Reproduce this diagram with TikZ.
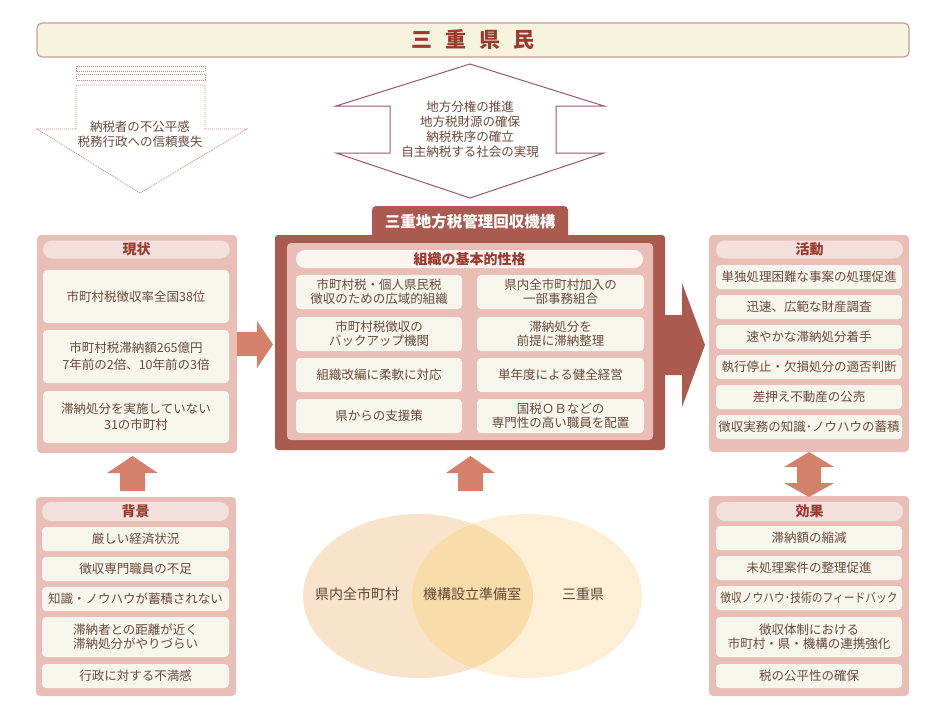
\documentclass[tikz,border=0pt]{standalone}
\usepackage{fontspec}
\setmainfont{Noto Sans CJK JP}
\definecolor{panelc}{HTML}{E8BEB6}
\definecolor{cellc}{HTML}{F6F6EC}
\definecolor{pillc}{HTML}{F3E0DD}
\definecolor{pillw}{HTML}{FBF4F1}
\definecolor{darkc}{HTML}{AB5A4F}
\definecolor{arrc}{HTML}{D4806B}
\definecolor{txtc}{HTML}{6A4A3B}
\definecolor{hdrc}{HTML}{9C3A2E}
\definecolor{banfill}{HTML}{F6F4DF}
\definecolor{banline}{HTML}{CC9C92}
\definecolor{dashc}{HTML}{C8897B}
\definecolor{dblc}{HTML}{9C5570}
\definecolor{ellA}{HTML}{F9E3CA}
\definecolor{ellB}{HTML}{FDEFD6}
\definecolor{ellAB}{HTML}{F8DDAA}
\begin{document}
\begin{tikzpicture}[x=1pt,y=-1pt,
  panel/.style={fill=panelc, rounded corners=4pt, inner sep=0pt},
  cell/.style={fill=cellc, rounded corners=4pt, inner sep=0pt, text=txtc, align=center, font=\fontsize{12.5pt}{14pt}\selectfont},
  pill/.style={fill=pillc, rounded corners=9pt, inner sep=0pt, text=hdrc, font=\bfseries\fontsize{14pt}{16pt}\selectfont},
  blockarrow/.style={fill=arrc},
  plain/.style={inner sep=0pt, text=txtc, align=center, font=\fontsize{12.5pt}{15pt}\selectfont},
  ]
\useasboundingbox (0,0) rectangle (932,717);
\fill[white] (0,0) rectangle (932,717);

% banner
\node[fill=banfill, draw=banline, line width=1.2pt, rounded corners=5pt, minimum width=872pt, minimum height=34pt, inner sep=0pt, text=hdrc, font=\bfseries\fontsize{21pt}{24pt}\selectfont] (ban) at (473,40) {三\hspace{13pt}重\hspace{13pt}県\hspace{13pt}民};

% dashed down arrow
\begin{scope}[draw=dashc, dash pattern=on 1pt off 1pt, line width=0.8pt]
\draw (76,66) rectangle (205,71);
\draw (76,74.5) rectangle (205,80);
\draw (76,85) -- (205,85) -- (205,129) -- (247,129) -- (140,193) -- (37,129) -- (76,129) -- cycle;
\end{scope}
\node[plain] (dtext) at (140,134.5) {納税者の不公平感\\税務行政への信頼喪失};

% double arrow (up/down)
\draw[dblc, line width=1pt, fill=white] (470,64) -- (604,106) -- (556,106) -- (556,153) -- (604,153) -- (470,198) -- (336,153) -- (390,153) -- (390,106) -- (336,106) -- cycle;
\node[plain] (utext) at (470,129.5) {地方分権の推進\\地方税財源の確保\\納税秩序の確立\\自主納税する社会の実現};

% ---- 現状
\node[panel, minimum width=200pt, minimum height=218pt] (gen) at (137,344) {};
\node[pill, minimum width=187pt, minimum height=18pt] (genh) at (136.5,249.5) {現状};
\node[cell, minimum width=186pt, minimum height=53pt] (g1) at (136,296.5) {市町村税徴収率全国38位};
\node[cell, minimum width=186pt, minimum height=53pt, font=\fontsize{12.5pt}{17pt}\selectfont] (g2) at (136,356.5) {市町村税滞納額265億円\\7年前の2倍、10年前の3倍};
\node[cell, minimum width=186pt, minimum height=52pt, font=\fontsize{12.5pt}{16pt}\selectfont] (g3) at (136,417) {滞納処分を実施していない\\31の市町村};

% ---- 背景
\node[panel, minimum width=200pt, minimum height=199pt] (hai) at (136,596.5) {};
\node[pill, minimum width=187pt, minimum height=19pt] (haih) at (135.5,511.5) {背景};
\node[cell, minimum width=187pt, minimum height=24pt] (h1) at (135.5,539) {厳しい経済状況};
\node[cell, minimum width=187pt, minimum height=24pt] (h2) at (135.5,569) {徴収専門職員の不足};
\node[cell, minimum width=187pt, minimum height=24pt] (h3) at (135.5,599) {知識・ノウハウが蓄積されない};
\node[cell, minimum width=187pt, minimum height=40pt] (h4) at (135.5,637) {滞納者との距離が近く\\滞納処分がやりづらい};
\node[cell, minimum width=187pt, minimum height=24pt] (h5) at (135.5,676) {行政に対する不満感};

% ---- central organisation
\fill[darkc, rounded corners=4pt] (372,206) rectangle (568,245);
\node[inner sep=0pt, text=white, font=\bfseries\fontsize{15.5pt}{18pt}\selectfont] (tab) at (470,221.5) {三重地方税管理回収機構};
\node[fill=darkc, rounded corners=3pt, inner sep=0pt, minimum width=390pt, minimum height=215pt] (org) at (470,342.5) {};
\node[panel, minimum width=366pt, minimum height=197pt] (orgp) at (470,341.5) {};
\node[pill, fill=pillw, minimum width=347pt, minimum height=18pt] (orgh) at (469.5,259) {組織の基本的性格};
\node[cell, minimum width=166pt, minimum height=34pt] (c11) at (379,292) {市町村税・個人県民税\\徴収のための広域的組織};
\node[cell, minimum width=167pt, minimum height=34pt] (c12) at (560.5,292) {県内全市町村加入の\\一部事務組合};
\node[cell, minimum width=166pt, minimum height=34pt] (c21) at (379,334) {市町村税徴収の\\バックアップ機関};
\node[cell, minimum width=167pt, minimum height=34pt] (c22) at (560.5,334) {滞納処分を\\前提に滞納整理};
\node[cell, minimum width=166pt, minimum height=34pt] (c31) at (379,375) {組織改編に柔軟に対応};
\node[cell, minimum width=167pt, minimum height=34pt] (c32) at (560.5,375) {単年度による健全経営};
\node[cell, minimum width=166pt, minimum height=34pt] (c41) at (379,416) {県からの支援策};
\node[cell, minimum width=167pt, minimum height=34pt] (c42) at (560.5,416) {国税ＯＢなどの\\専門性の高い職員を配置};

% big arrow to 活動
\fill[darkc] (664,315) -- (682,315) -- (682,283) -- (705,345) -- (682,407) -- (682,375) -- (664,375) -- cycle;

% ---- 活動
\node[panel, minimum width=200pt, minimum height=217pt] (kat) at (809,343.5) {};
\node[pill, minimum width=187pt, minimum height=18pt] (kath) at (809.5,249.5) {活動};
\node[cell, minimum width=186pt, minimum height=24pt] (k1) at (809,277) {単独処理困難な事案の処理促進};
\node[cell, minimum width=186pt, minimum height=24pt] (k2) at (809,307) {迅速、広範な財産調査};
\node[cell, minimum width=186pt, minimum height=24pt] (k3) at (809,337) {速やかな滞納処分着手};
\node[cell, minimum width=186pt, minimum height=24pt] (k4) at (809,367) {執行停止・欠損処分の適否判断};
\node[cell, minimum width=186pt, minimum height=24pt] (k5) at (809,397) {差押え不動産の公売};
\node[cell, minimum width=186pt, minimum height=24pt] (k6) at (809,427) {徴収実務の知識･ノウハウの蓄積};

% ---- 効果
\node[panel, minimum width=200pt, minimum height=200pt] (kou) at (809,596) {};
\node[pill, minimum width=187pt, minimum height=19pt] (kouh) at (809.5,511.5) {効果};
\node[cell, minimum width=186pt, minimum height=24pt] (e1) at (809,538) {滞納額の縮減};
\node[cell, minimum width=186pt, minimum height=24pt] (e2) at (809,568) {未処理案件の整理促進};
\node[cell, minimum width=186pt, minimum height=24pt] (e3) at (809,598) {\scalebox{0.86}[1]{徴収ノウハウ･技術のフィードバック}};
\node[cell, minimum width=186pt, minimum height=40pt] (e4) at (809,637) {徴収体制における\\市町村・県・機構の連携強化};
\node[cell, minimum width=186pt, minimum height=24pt] (e5) at (809,676) {税の公平性の確保};

% salmon arrows
\fill[blockarrow] (237,332) -- (257,332) -- (257,321) -- (273,344.5) -- (257,368) -- (257,356) -- (237,356) -- cycle;
\fill[blockarrow] (120,491) -- (120,473) -- (107,473) -- (132.5,456) -- (158,473) -- (145,473) -- (145,491) -- cycle;
\fill[blockarrow] (458,491) -- (458,473) -- (446,473) -- (470.5,456) -- (495,473) -- (483,473) -- (483,491) -- cycle;
\fill[blockarrow] (809,452) -- (834,467) -- (821,467) -- (821,483) -- (834,483) -- (809,497) -- (784,483) -- (797,483) -- (797,467) -- (784,467) -- cycle;

% Venn ellipses
\fill[ellA] (418,596) ellipse [x radius=115, y radius=82];
\fill[ellB] (527,596) ellipse [x radius=115, y radius=82];
\begin{scope}
\clip (418,596) ellipse [x radius=115, y radius=82];
\fill[ellAB] (527,596) ellipse [x radius=115, y radius=82];
\end{scope}
\node[plain, font=\fontsize{14pt}{16pt}\selectfont, text=txtc!90!black] (v1) at (357,594) {県内全市町村};
\node[plain, font=\fontsize{14pt}{16pt}\selectfont, text=txtc!90!black] (v2) at (472,594) {機構設立準備室};
\node[plain, font=\fontsize{14pt}{16pt}\selectfont, text=txtc!90!black] (v3) at (583,594) {三重県};
\end{tikzpicture}
\end{document}
